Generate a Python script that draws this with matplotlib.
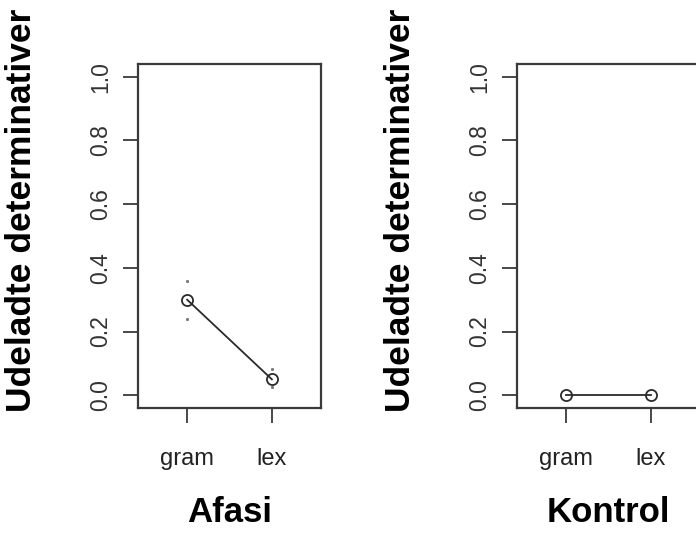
import matplotlib.pyplot as plt
import numpy as np

plt.rcParams['font.family'] = ['Liberation Sans', 'DejaVu Sans']

conditions = ['gram', 'lex']
panels = ['Afasi', 'Kontrol']
means = {'Afasi': [0.30, 0.05], 'Kontrol': [0.0, 0.0]}
lower = {'Afasi': [0.24, 0.026], 'Kontrol': [0.0, 0.0]}
upper = {'Afasi': [0.36, 0.081], 'Kontrol': [0.0, 0.0]}
yticks = [0.0, 0.2, 0.4, 0.6, 0.8, 1.0]
ylabel = 'Udeladte determinativer'

W, H = 696, 534
fig = plt.figure(figsize=(W / 100, H / 100), dpi=100)

# axes boxes in pixels: left, top, right, bottom
boxes = [(138, 64, 321, 408), (517, 64, 700, 408)]
ylab_x = [22, 400]
axcol = '#3a3a3a'

for name, (l, t, r, b), yx in zip(panels, boxes, ylab_x):
    ax = fig.add_axes([l / W, 1 - b / H, (r - l) / W, (b - t) / H])
    x = np.arange(1, len(conditions) + 1)
    m = means[name]
    ax.plot(x, m, color='#2a2a2a', lw=1.3, marker='o', ms=8,
            mfc='none', mec='#2a2a2a', mew=1.3)
    if name == 'Afasi':
        ax.plot(x, lower[name], ls='none', marker='s', ms=1.1, color='#777777')
        ax.plot(x, upper[name], ls='none', marker='s', ms=1.1, color='#777777')
    ax.set_xlim(0.42, 2.58)
    ax.set_ylim(-0.04, 1.04)
    ax.set_xticks(x)
    ax.set_xticklabels(conditions, fontsize=17, color='#222222')
    ax.set_yticks(yticks)
    ax.set_yticklabels([f'{v:.1f}' for v in yticks], fontsize=16.5,
                       color='#333333', rotation=90, va='center')
    for s in ax.spines.values():
        s.set_color(axcol)
        s.set_linewidth(1.6)
    ax.tick_params(axis='both', direction='out', length=10.5, width=1.3,
                   color=axcol)
    ax.tick_params(axis='y', pad=8)
    ax.tick_params(axis='x', pad=18)
    cx = (l + r) / 2 if name == 'Afasi' else (l + 183 / 2)
    fig.text(cx / W, 1 - 513 / H, name, fontsize=25, fontweight='bold',
             ha='center', va='center')
    fig.text(yx / W, 1 - 210 / H, ylabel, fontsize=25.5, fontweight='bold',
             rotation=90, ha='center', va='center')

fig.savefig('out.png', dpi=100)
